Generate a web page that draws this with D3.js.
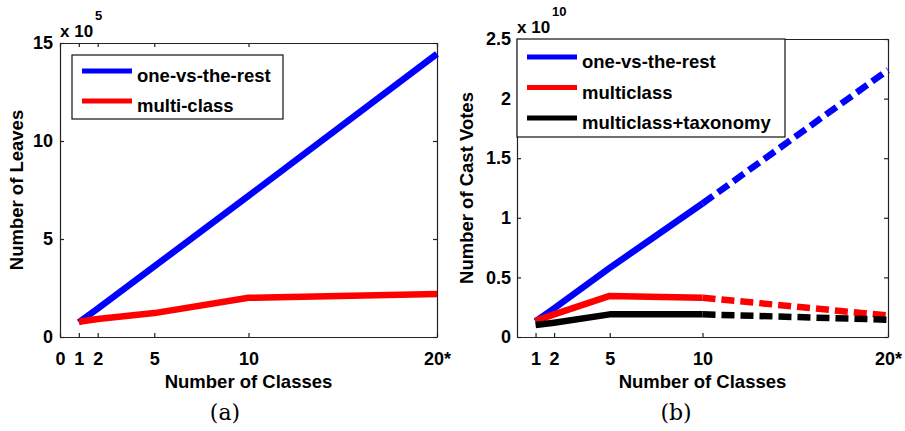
<!DOCTYPE html>
<html>
<head>
<meta charset="utf-8">
<script src="https://cdn.jsdelivr.net/npm/d3@7"></script>
<style>
  html, body { margin: 0; padding: 0; background: #fff; }
  svg { display: block; }
  text { font-family: "Liberation Sans", Arial, Helvetica, sans-serif; font-weight: bold; fill: #000; }
  .caption { font-family: "DejaVu Serif", "Liberation Serif", serif; font-weight: normal; }
</style>
</head>
<body>
<svg id="fig" width="905" height="431"></svg>
<script>
// Number of classes on the x axis (20* is the full set)
const classes = [1, 2, 5, 10, 20];
const leftTickValues = [0, 1, 2, 5, 10, 20];
const leftTickLabels = ["0", "1", "2", "5", "10", "20*"];
const rightTickValues = [1, 2, 5, 10, 20];
const rightTickLabels = ["1", "2", "5", "10", "20*"];

// (a) number of leaves, in units of 1e5
const leavesOneVsRest = [0.75, 1.45, 3.6, 7.2, 14.45];
const leavesMulticlass = [0.78, 0.92, 1.22, 2.0, 2.2];
const leavesYTicks = [0, 5, 10, 15];

// (b) number of cast votes, in units of 1e10 (values beyond 10 classes are extrapolated -> dashed)
const votesOneVsRest = [0.13, 0.24, 0.58, 1.12, 2.24];
const votesMulticlass = [0.135, 0.19, 0.345, 0.33, 0.18];
const votesTaxonomy = [0.1, 0.12, 0.19, 0.19, 0.145];
const votesYTicks = [0, 0.5, 1, 1.5, 2, 2.5];
const measuredUpTo = 10;

const svg = d3.select("#fig");
const TICK = 4;

function panel(opts) {
  const x = d3.scaleLinear().domain([0, 20]).range(opts.xr);
  const y = d3.scaleLinear().domain(opts.yDomain).range(opts.yr);
  const g = svg.append("g");

  // plot area background
  g.append("rect")
    .attr("x", opts.xr[0]).attr("y", opts.yr[1])
    .attr("width", opts.xr[1] - opts.xr[0]).attr("height", opts.yr[0] - opts.yr[1])
    .attr("fill", "#fff");

  const fmtX = d => opts.xLabels[opts.xTicks.indexOf(d)];
  const fmtY = opts.yFmt;

  // bottom axis with labels, ticks pointing inward
  g.append("g").attr("transform", `translate(0,${opts.yr[0]})`)
    .call(d3.axisBottom(x).tickValues(opts.xTicks).tickFormat(fmtX)
      .tickSizeInner(-TICK).tickSizeOuter(0).tickPadding(15))
    .call(a => a.selectAll("text").attr("font-size", 18).attr("font-family", null));
  // top mirror ticks
  g.append("g").attr("transform", `translate(0,${opts.yr[1]})`)
    .call(d3.axisTop(x).tickValues(opts.xTicks).tickFormat("")
      .tickSizeInner(-TICK).tickSizeOuter(0));
  // left axis with labels
  g.append("g").attr("transform", `translate(${opts.xr[0]},0)`)
    .call(d3.axisLeft(y).tickValues(opts.yTicks).tickFormat(fmtY)
      .tickSizeInner(-TICK).tickSizeOuter(0).tickPadding(opts.yPad))
    .call(a => a.selectAll("text").attr("font-size", 18).attr("font-family", null));
  // right mirror ticks
  g.append("g").attr("transform", `translate(${opts.xr[1]},0)`)
    .call(d3.axisRight(y).tickValues(opts.yTicks).tickFormat("")
      .tickSizeInner(-TICK).tickSizeOuter(0));

  g.selectAll(".domain, .tick line").attr("stroke", "#222").attr("stroke-width", 1.2);

  const line = d3.line().x(d => x(d[0])).y(d => y(d[1]));

  opts.series.forEach(s => {
    const pts = classes.map((c, i) => [c, s.values[i]]);
    const solid = opts.split ? pts.filter(p => p[0] <= opts.split) : pts;
    g.append("path").datum(solid)
      .attr("d", line).attr("fill", "none")
      .attr("stroke", s.color).attr("stroke-width", 6.5)
      .attr("stroke-linejoin", "round").attr("stroke-linecap", "butt");
    if (opts.split) {
      const dashed = pts.filter(p => p[0] >= opts.split);
      g.append("path").datum(dashed)
        .attr("d", line).attr("fill", "none")
        .attr("stroke", s.color).attr("stroke-width", 6.5)
        .attr("stroke-dasharray", "13,6")
        .attr("stroke-linecap", "butt");
    }
  });

  // exponent label above the y axis
  const m = g.append("text").attr("x", opts.xr[0]).attr("y", opts.multY).attr("font-size", 17);
  m.append("tspan").text("x 10");
  m.append("tspan").attr("font-size", 13).attr("dx", 2).attr("dy", -17).text(opts.exponent);

  // legend
  const L = opts.legend;
  g.append("rect").attr("x", L.x).attr("y", L.y).attr("width", L.w).attr("height", L.h)
    .attr("fill", "#fff").attr("stroke", "#111").attr("stroke-width", 1.2);
  opts.series.forEach((s, i) => {
    const ly = L.y + L.first + i * L.step;
    g.append("line").attr("x1", L.x + 10).attr("x2", L.x + 60)
      .attr("y1", ly).attr("y2", ly).attr("stroke", s.color).attr("stroke-width", 5);
    g.append("text").attr("x", L.x + 65).attr("y", ly + 11).attr("font-size", 18.5).text(s.name);
  });

  // axis titles
  const cx = (opts.xr[0] + opts.xr[1]) / 2;
  g.append("text").attr("x", cx).attr("y", 388).attr("text-anchor", "middle")
    .attr("font-size", 18.5).text("Number of Classes");
  g.append("text")
    .attr("transform", `translate(${opts.yTitleX},${(opts.yr[0] + opts.yr[1]) / 2}) rotate(-90)`)
    .attr("text-anchor", "middle").attr("font-size", 18.5).text(opts.yTitle);

  // subfigure caption
  g.append("text").attr("class", "caption").attr("x", opts.captionX).attr("y", 420)
    .attr("text-anchor", "middle").attr("font-size", 22).text(opts.caption);
}

panel({
  xr: [60, 437], yr: [337, 43], yDomain: [0, 15],
  xTicks: leftTickValues, xLabels: leftTickLabels,
  yTicks: leavesYTicks, yFmt: d3.format("d"), yPad: 7,
  exponent: "5", multY: 37,
  series: [
    { name: "one-vs-the-rest", color: "#0000ff", values: leavesOneVsRest },
    { name: "multi-class", color: "#ff0000", values: leavesMulticlass }
  ],
  legend: { x: 72, y: 55, w: 211, h: 64, first: 16, step: 30 },
  yTitle: "Number of Leaves", yTitleX: 23,
  caption: "(a)", captionX: 225
});

panel({
  xr: [517, 888], yr: [337, 39], yDomain: [0, 2.5],
  xTicks: rightTickValues, xLabels: rightTickLabels,
  yTicks: votesYTicks, yFmt: d => (d === 0 ? "0" : String(d)), yPad: 6,
  exponent: "10", multY: 33, split: measuredUpTo,
  series: [
    { name: "one-vs-the-rest", color: "#0000ff", values: votesOneVsRest },
    { name: "multiclass", color: "#ff0000", values: votesMulticlass },
    { name: "multiclass+taxonomy", color: "#000000", values: votesTaxonomy }
  ],
  legend: { x: 517, y: 39, w: 268, h: 98, first: 18, step: 30.5 },
  yTitle: "Number of Cast Votes", yTitleX: 473,
  caption: "(b)", captionX: 676
});
</script>
</body>
</html>
